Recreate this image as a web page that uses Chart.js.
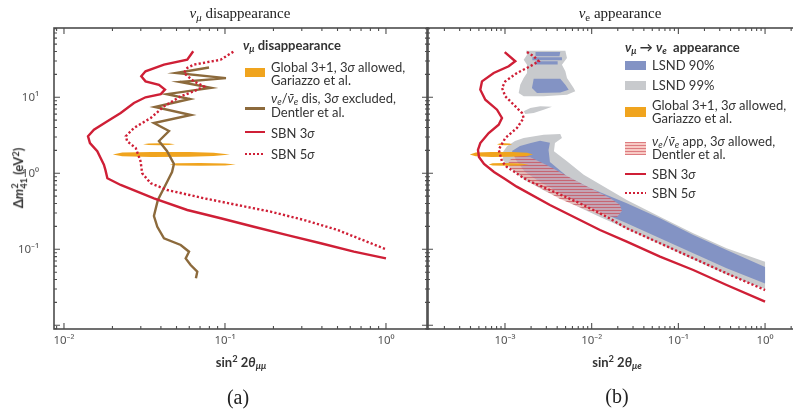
<!DOCTYPE html>
<html>
<head>
<meta charset="utf-8">
<script src="https://cdn.jsdelivr.net/npm/chart.js@4.4.1/dist/chart.umd.min.js"></script>
<style>
html, body { margin: 0; padding: 0; background: #fff; overflow: hidden; }
#wrap { position: relative; width: 793px; height: 414px; overflow: hidden; }
canvas { position: absolute; top: 0; }
.t { position: absolute; white-space: nowrap; color: #333; font-family: Lato, "Noto Sans", sans-serif; font-size: 13px; line-height: 1; transform: translateY(-50%); }
.c { transform: translate(-50%, -50%); }
.b { font-weight: bold; }
.serif { font-family: "Liberation Serif", "DejaVu Serif", serif; color: #222; }
.sub { font-size: 72%; vertical-align: -0.3em; line-height: 0; }
.sup { font-size: 72%; vertical-align: 0.45em; line-height: 0; }
.sw { position: absolute; }
.stack { display: inline-flex; flex-direction: column; font-size: 72%; line-height: 0.95; vertical-align: middle; }
</style>
</head>
<body>
<div id="wrap">
  <canvas id="chartA" width="430" height="414" style="left:0"></canvas>
  <canvas id="chartB" width="380" height="414" style="left:420px"></canvas>

  <!-- panel titles -->
  <div class="t c serif" style="left:240px;top:13px;font-size:15px"><i>ν</i><span class="sub"><i>μ</i></span> disappearance</div>
  <div class="t c serif" style="left:620px;top:13px;font-size:15px"><i>ν</i><span class="sub">e</span> appearance</div>

  <!-- axis titles -->
  <div class="t c b" style="left:20px;top:178px;font-size:13px;transform:translate(-50%,-50%) rotate(-90deg)">Δ<i>m</i><span class="stack"><span>2</span><span>41</span></span> (eV<span class="sup">2</span>)</div>
  <div class="t c b" style="left:241px;top:362px;font-size:13px">sin<span class="sup">2</span> 2<i>θ</i><span class="sub"><i>μμ</i></span></div>
  <div class="t c b" style="left:617px;top:362px;font-size:13px">sin<span class="sup">2</span> 2<i>θ</i><span class="sub"><i>μe</i></span></div>
  <div class="t c serif" style="left:238px;top:397px;font-size:20px">(a)</div>
  <div class="t c serif" style="left:617px;top:396px;font-size:20px">(b)</div>

  <!-- legend (a) -->
  <div class="t b" style="left:243px;top:45px;font-size:13px"><i>ν</i><span class="sub"><i>μ</i></span> disappearance</div>
  <div class="sw" style="left:245px;top:68px;width:20px;height:9px;background:#f0a41e"></div>
  <div class="t" style="left:271px;top:67px">Global 3+1, 3<i>σ</i> allowed,</div>
  <div class="t" style="left:271px;top:80px">Gariazzo et al.</div>
  <div class="sw" style="left:245px;top:107px;width:20px;height:2.5px;background:#8c6a3c"></div>
  <div class="t" style="left:271px;top:98px"><i>ν</i><span class="sub"><i>e</i></span>/<i>ν̄</i><span class="sub"><i>e</i></span> dis, 3<i>σ</i> excluded,</div>
  <div class="t" style="left:271px;top:112px">Dentler et al.</div>
  <div class="sw" style="left:245px;top:131px;width:20px;height:2.4px;background:#cf1f36"></div>
  <div class="t" style="left:271px;top:133px">SBN 3<i>σ</i></div>
  <div class="sw" style="left:245px;top:153px;width:20px;height:2.4px;background:repeating-linear-gradient(90deg,#cf1f36 0 2px,transparent 2px 4px)"></div>
  <div class="t" style="left:271px;top:154px">SBN 5<i>σ</i></div>

  <!-- legend (b) -->
  <div class="t b" style="left:625px;top:47px;font-size:13px"><i>ν</i><span class="sub"><i>μ</i></span> → <i>ν</i><span class="sub"><i>e</i></span>&nbsp; appearance</div>
  <div class="sw" style="left:625px;top:61px;width:21px;height:9px;background:#8393c4"></div>
  <div class="t" style="left:652px;top:65px">LSND 90%</div>
  <div class="sw" style="left:625px;top:81px;width:21px;height:9px;background:#c8cacd"></div>
  <div class="t" style="left:652px;top:85px">LSND 99%</div>
  <div class="sw" style="left:625px;top:107px;width:21px;height:10px;background:#f0a41e"></div>
  <div class="t" style="left:652px;top:105px">Global 3+1, 3<i>σ</i> allowed,</div>
  <div class="t" style="left:652px;top:118px">Gariazzo et al.</div>
  <div class="sw" style="left:625px;top:142px;width:21px;height:13px;background:repeating-linear-gradient(180deg,rgba(212,90,96,0.8) 0 1.2px,rgba(246,196,190,0.9) 1.2px 3px)"></div>
  <div class="t" style="left:652px;top:141px"><i>ν</i><span class="sub"><i>e</i></span>/<i>ν̄</i><span class="sub"><i>e</i></span> app, 3<i>σ</i> allowed,</div>
  <div class="t" style="left:652px;top:154px">Dentler et al.</div>
  <div class="sw" style="left:625px;top:173px;width:21px;height:2.4px;background:#cf1f36"></div>
  <div class="t" style="left:652px;top:174px">SBN 3<i>σ</i></div>
  <div class="sw" style="left:625px;top:192px;width:21px;height:2.4px;background:repeating-linear-gradient(90deg,#cf1f36 0 2px,transparent 2px 4px)"></div>
  <div class="t" style="left:652px;top:193px">SBN 5<i>σ</i></div>
</div>

<script>
/* AXIS TICKS */
const yTickVals = [0.1, 1, 10];
const yTickLabels = ["10⁻¹", "10⁰", "10¹"];
const xTickValsA = [0.01, 0.1, 1];
const xTickLabelsA = ["10⁻²", "10⁻¹", "10⁰"];
const xTickValsB = [0.001, 0.01, 0.1, 1];
const xTickLabelsB = ["10⁻³", "10⁻²", "10⁻¹", "10⁰"];

/* PANEL (a): nu_mu disappearance */
const sbn3A_x = [0.0635, 0.0583, 0.0418, 0.0321, 0.0302, 0.0321, 0.0389, 0.0424, 0.0399, 0.0321, 0.0272, 0.0225, 0.0186, 0.01535, 0.0141, 0.0145, 0.0161, 0.0177, 0.0181, 0.0186, 0.0225, 0.0362, 0.0583, 0.094, 0.151, 0.244, 0.393, 0.632, 1.0];
const sbn3A_y = [40.3, 31.2, 26.9, 22.0, 18.9, 16.2, 14.6, 12.6, 11.0, 10.0, 8.41, 6.21, 4.83, 3.75, 3.07, 2.50, 1.95, 1.30, 1.10, 0.86, 0.702, 0.469, 0.329, 0.256, 0.198, 0.154, 0.120, 0.093, 0.076];
const sbn5A_x = [0.1127, 0.094, 0.0641, 0.0583, 0.0556, 0.0641, 0.0741, 0.0641, 0.0531, 0.0418, 0.0346, 0.0272, 0.0242, 0.0247, 0.0279, 0.0299, 0.0306, 0.0346, 0.0438, 0.0741, 0.119, 0.192, 0.310, 0.499, 1.0];
const sbn5A_y = [39.8, 31.2, 26.9, 24.3, 20.9, 16.2, 13.9, 12.0, 10.3, 7.6, 5.34, 3.95, 3.07, 2.64, 2.15, 1.44, 1.0, 0.739, 0.603, 0.469, 0.383, 0.313, 0.243, 0.180, 0.1];
const dentlerDis_x = [0.0796, 0.0497, 0.1014, 0.0525, 0.0819, 0.0436, 0.0606, 0.0367, 0.0615, 0.0362, 0.0449, 0.0389, 0.0436, 0.0482, 0.0469, 0.0443, 0.0383, 0.0362, 0.038, 0.0418, 0.0531, 0.0598, 0.057, 0.0612, 0.0673, 0.066];
const dentlerDis_y = [24.7, 20.9, 17.9, 15.9, 13.3, 11.0, 9.5, 7.45, 5.85, 4.59, 3.6, 2.66, 1.97, 1.33, 1.04, 0.817, 0.446, 0.274, 0.198, 0.1396, 0.114, 0.093, 0.076, 0.0621, 0.0507, 0.0415];

// global 3+1 allowed islands (same dm2 in both panels)
const globalHiY = [2.41, 2.47, 2.485, 2.47, 2.41, 2.35, 2.337, 2.35];
const globalMidY = [1.77, 1.876, 1.91, 1.903, 1.859, 1.77, 1.686, 1.647, 1.640, 1.670];
const globalLoY = [1.31, 1.36, 1.37, 1.35, 1.31, 1.27, 1.253, 1.262];
const globalHiA_x = [0.031, 0.0335, 0.039, 0.045, 0.0489, 0.045, 0.039, 0.0335];
const globalMidA_x = [0.0201, 0.023, 0.035, 0.06, 0.085, 0.1074, 0.085, 0.06, 0.035, 0.023];
const globalLoA_x = [0.0455, 0.05, 0.07, 0.1, 0.117, 0.1, 0.07, 0.05];

/* PANEL (b): nu_e appearance */
const sbn3B_x = [0.000993, 0.001315, 0.001104, 0.000741, 0.000543, 0.000519, 0.000593, 0.000809, 0.000923, 0.000846, 0.000649, 0.000519, 0.000488, 0.000501, 0.000573, 0.000747, 0.001, 0.001365, 0.0033, 0.01247, 0.0254, 0.0614, 0.1486, 0.360, 1.0];
const sbn3B_y = [39.4, 29.8, 25.6, 20.9, 16.2, 12.6, 9.3, 6.87, 5.34, 4.36, 3.39, 2.50, 2.03, 1.64, 1.33, 1.04, 0.841, 0.667, 0.383, 0.1795, 0.126, 0.080, 0.0534, 0.0339, 0.0205];
const sbn5B_x = [0.001795, 0.002143, 0.002447, 0.001958, 0.001375, 0.001008, 0.000923, 0.001008, 0.00126, 0.00157, 0.001643, 0.001375, 0.001008, 0.000846, 0.000923, 0.001046, 0.00178, 0.0033, 0.00733, 0.0149, 0.0254, 0.0614, 0.1486, 0.360, 1.0];
const sbn5B_y = [39.4, 34.6, 29.8, 25.6, 20.9, 16.2, 13.3, 10.3, 8.0, 6.21, 5.34, 3.95, 2.91, 2.05, 1.44, 1.22, 0.816, 0.603, 0.403, 0.268, 0.189, 0.120, 0.0762, 0.0483, 0.0291];

const globalHiB_x = [0.000809, 0.00087, 0.001, 0.00113, 0.001204, 0.00113, 0.001, 0.00087];
const globalMidB_x = [0.000392, 0.00046, 0.0007, 0.0012, 0.0018, 0.0021, 0.0018, 0.0012, 0.0007, 0.00046];
const globalLoB_x = [0.000649, 0.00072, 0.001, 0.0015, 0.00189, 0.0015, 0.001, 0.00072];

const lsnd99Top_x = [0.001746, 0.00497, 0.00519, 0.00454, 0.00497, 0.00519, 0.00619, 0.00647, 0.00519, 0.00279, 0.001643, 0.001439, 0.0015, 0.001643, 0.001795, 0.001795, 0.001643, 0.001795];
const lsnd99Top_y = [41.0, 41.0, 32.9, 26.9, 22.0, 17.9, 13.3, 12.0, 10.8, 10.3, 10.3, 11.4, 14.6, 17.9, 20.9, 26.9, 31.2, 36.4];
const lsnd99Mid_x = [0.001643, 0.001958, 0.00255, 0.00348, 0.00279, 0.002143, 0.001714];
const lsnd99Mid_y = [6.54, 7.23, 7.62, 7.52, 6.87, 6.21, 6.03];
const lsnd99Main_x = [0.000948, 0.001055, 0.001304, 0.001643, 0.00279, 0.00434, 0.00454, 0.00377, 0.00367, 0.00519, 0.00809, 0.0254, 0.0614, 0.1486, 0.360, 1.0, 1.0, 0.360, 0.1486, 0.0614, 0.0254, 0.01247, 0.00562, 0.00289, 0.0017, 0.001142, 0.000948];
const lsnd99Main_y = [1.906, 2.265, 2.66, 2.91, 3.22, 3.29, 2.91, 2.50, 1.95, 1.44, 0.958, 0.446, 0.268, 0.1624, 0.1031, 0.0687, 0.0300, 0.0466, 0.0734, 0.1175, 0.185, 0.266, 0.407, 0.585, 0.816, 1.174, 1.496];

const lsnd90TopA_x = [0.00225, 0.00434, 0.00425, 0.00225];
const lsnd90TopA_y = [39.4, 39.4, 34.6, 34.6];
const lsnd90TopB_x = [0.00207, 0.00454, 0.00454, 0.00207];
const lsnd90TopB_y = [33.6, 33.6, 30.7, 30.7];
const lsnd90TopC_x = [0.00225, 0.00405, 0.00405, 0.00225];
const lsnd90TopC_y = [29.8, 29.8, 27.0, 27.0];
const lsnd90Upper_x = [0.002143, 0.00434, 0.00497, 0.00543, 0.00434, 0.00234, 0.002047, 0.0021];
const lsnd90Upper_y = [17.6, 17.6, 14.6, 12.6, 11.6, 11.4, 13.3, 15.4];
const lsnd90Main_x = [0.001204, 0.00149, 0.00194, 0.002535, 0.0033, 0.00318, 0.0033, 0.00515, 0.00955, 0.0254, 0.0614, 0.1486, 0.360, 1.0, 1.0, 0.360, 0.1486, 0.0614, 0.0254, 0.01423, 0.00733, 0.00431, 0.002535, 0.0017, 0.00134];
const lsnd90Main_y = [1.965, 2.29, 2.48, 2.69, 2.53, 2.03, 1.408, 0.921, 0.641, 0.403, 0.256, 0.154, 0.098, 0.0585, 0.0355, 0.0562, 0.0886, 0.1396, 0.22, 0.291, 0.407, 0.551, 0.768, 1.04, 1.496];

const dentlerApp_x = [0.001142, 0.001365, 0.00194, 0.0033, 0.00733, 0.01626, 0.0212, 0.0223, 0.0196, 0.01423, 0.00875, 0.00431, 0.00212, 0.001247, 0.001083];
const dentlerApp_y = [1.496, 1.74, 1.64, 1.22, 0.745, 0.473, 0.383, 0.319, 0.266, 0.274, 0.329, 0.459, 0.723, 1.105, 1.325];

/* COLOURS */
const RED = "#cf1f36";
const BROWN = "#8c6a3c";
const ORANGE = "#f0a41e";
const BLUE = "#8393c4";
const GRAY = "#c8cacd";

function pts(xs, ys) {
  return xs.map((x, i) => ({ x, y: ys[i] }));
}

function curve(xs, ys, color, dashed, order) {
  return {
    data: pts(xs, ys),
    borderColor: color,
    borderWidth: 2.4,
    borderDash: dashed ? [2.2, 2.2] : [],
    pointRadius: 0,
    tension: 0,
    fill: false,
    order
  };
}

function region(xs, ys, fillColor, order) {
  const d = pts(xs, ys);
  d.push(d[0]);
  return {
    data: d,
    borderColor: "rgba(0,0,0,0)",
    borderWidth: 0,
    backgroundColor: fillColor,
    pointRadius: 0,
    tension: 0,
    fill: "shape",
    order
  };
}

function hatchPattern() {
  const c = document.createElement("canvas");
  c.width = 4; c.height = 3;
  const g = c.getContext("2d");
  g.fillStyle = "rgba(240,175,170,0.6)";
  g.fillRect(0, 0, 4, 3);
  g.fillStyle = "rgba(200,60,70,0.6)";
  g.fillRect(0, 0, 4, 1);
  return g.createPattern(c, "repeat");
}

/* FRAME + INWARD LOG TICKS */
const frameTicks = {
  id: "frameTicks",
  afterDraw(chart) {
    const { ctx, chartArea: a, scales: { x, y } } = chart;
    const marks = (scale) => {
      const out = [];
      const lo = Math.floor(Math.log10(scale.min));
      const hi = Math.ceil(Math.log10(scale.max));
      for (let e = lo; e <= hi; e++) {
        for (let m = 1; m < 10; m++) {
          const v = m * Math.pow(10, e);
          if (v >= scale.min && v <= scale.max) out.push({ p: scale.getPixelForValue(v), major: m === 1 });
        }
      }
      return out;
    };
    ctx.save();
    ctx.strokeStyle = "#4d4d4d";
    ctx.lineWidth = 1.1;
    ctx.beginPath();
    marks(x).forEach(t => {
      const len = t.major ? 6 : 3;
      ctx.moveTo(t.p, a.bottom); ctx.lineTo(t.p, a.bottom - len);
      ctx.moveTo(t.p, a.top); ctx.lineTo(t.p, a.top + len);
    });
    marks(y).forEach(t => {
      const len = t.major ? 6 : 3;
      ctx.moveTo(a.left, t.p); ctx.lineTo(a.left + len, t.p);
      ctx.moveTo(a.right, t.p); ctx.lineTo(a.right - len, t.p);
    });
    ctx.stroke();
    ctx.lineWidth = 1.6;
    ctx.strokeRect(a.left, a.top, a.right - a.left, a.bottom - a.top);
    ctx.restore();
  }
};

function panelOptions(xMin, xMax, xVals, xLabels, yWidth, showY, padRight) {
  const tickFont = { family: "'Noto Sans', Lato, sans-serif", size: 11.5 };
  return {
    responsive: false,
    animation: false,
    events: [],
    layout: { padding: { top: 28, right: padRight, bottom: 0, left: 0 } },
    plugins: { legend: { display: false }, tooltip: { enabled: false } },
    scales: {
      x: {
        type: "logarithmic",
        min: xMin,
        max: xMax,
        afterBuildTicks: s => { s.ticks = xVals.map(v => ({ value: v })); },
        afterFit: s => { s.height = 85; },
        grid: { display: false },
        border: { display: false },
        ticks: { autoSkip: false, maxRotation: 0, padding: -3, color: "#555", font: tickFont,
                 callback: (v, i) => xLabels[i] }
      },
      y: {
        type: "logarithmic",
        min: 0.00894,
        max: 81.6,
        afterBuildTicks: s => { s.ticks = yTickVals.map(v => ({ value: v })); },
        afterFit: s => { s.width = yWidth; },
        grid: { display: false },
        border: { display: false },
        ticks: { display: showY, autoSkip: false, padding: 7, color: "#555", font: tickFont,
                 callback: (v, i) => yTickLabels[i] }
      }
    }
  };
}

new Chart(document.getElementById("chartA"), {
  type: "line",
  data: {
    datasets: [
      curve(sbn3A_x, sbn3A_y, RED, false, 1),
      curve(sbn5A_x, sbn5A_y, RED, true, 1),
      curve(dentlerDis_x, dentlerDis_y, BROWN, false, 2),
      region(globalHiA_x, globalHiY, ORANGE, 3),
      region(globalMidA_x, globalMidY, ORANGE, 3),
      region(globalLoA_x, globalLoY, ORANGE, 3)
    ]
  },
  options: panelOptions(0.00867, 1.824, xTickValsA, xTickLabelsA, 54, true, 2),
  plugins: [frameTicks]
});

new Chart(document.getElementById("chartB"), {
  type: "line",
  data: {
    datasets: [
      curve(sbn3B_x, sbn3B_y, RED, false, 1),
      curve(sbn5B_x, sbn5B_y, RED, true, 1),
      region(globalHiB_x, globalHiY, ORANGE, 2),
      region(globalMidB_x, globalMidY, ORANGE, 2),
      region(globalLoB_x, globalLoY, ORANGE, 2),
      region(dentlerApp_x, dentlerApp_y, hatchPattern(), 3),
      region(lsnd90TopA_x, lsnd90TopA_y, BLUE, 4),
      region(lsnd90TopB_x, lsnd90TopB_y, BLUE, 4),
      region(lsnd90TopC_x, lsnd90TopC_y, BLUE, 4),
      region(lsnd90Upper_x, lsnd90Upper_y, BLUE, 4),
      region(lsnd90Main_x, lsnd90Main_y, BLUE, 4),
      region(lsnd99Top_x, lsnd99Top_y, GRAY, 5),
      region(lsnd99Mid_x, lsnd99Mid_y, GRAY, 5),
      region(lsnd99Main_x, lsnd99Main_y, GRAY, 5)
    ]
  },
  options: panelOptions(1.26e-4, 2.53, xTickValsB, xTickLabelsB, 7, false, 0),
  plugins: [frameTicks]
});
</script>
</body>
</html>
